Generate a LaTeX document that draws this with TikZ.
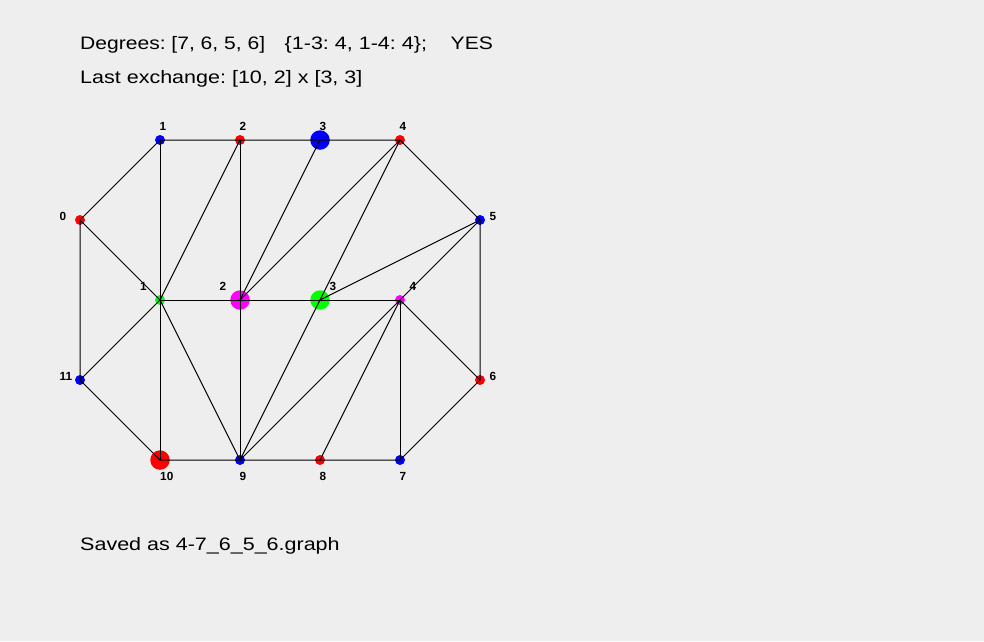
\documentclass[tikz,border=0pt]{standalone}
\usepackage{fontspec}
\setmainfont{Liberation Sans}
\newfontfamily\widefont[FakeStretch=1.17]{Liberation Sans}
\newfontfamily\widerfont[FakeStretch=1.195]{Liberation Sans}
\frenchspacing
\definecolor{bgc}{RGB}{238,238,238}
\definecolor{cred}{RGB}{255,0,0}
\definecolor{cblue}{RGB}{0,0,255}
\definecolor{cgreen}{RGB}{0,255,0}
\definecolor{cmag}{RGB}{255,0,255}
\tikzset{
  dot/.style={circle, inner sep=0pt, minimum size=10pt, draw=none},
  bigdot/.style={minimum size=19.5pt},
  lbl/.style={anchor=base west, inner sep=0pt, font=\fontsize{11.8}{12}\selectfont\bfseries},
  txt/.style={anchor=base west, inner sep=0pt, font=\widefont\fontsize{18}{20}\selectfont},
  txtw/.style={txt, font=\widerfont\fontsize{18}{20}\selectfont},
  edge/.style={line width=1pt, black}
}
\begin{document}
\begin{tikzpicture}[x=1pt,y=-1pt]
\fill[bgc] (0,0) rectangle (984,641);
\useasboundingbox (0,0) rectangle (984,641);

% texts
\node[txt] (t1) at (80,49.5) {Degrees: [7, 6, 5, 6]};
\node[txtw] (t2) at (284.5,49.5) {\{1-3: 4, 1-4: 4\};};
\node[txt] (t3) at (450.5,49.5) {YES};
\node[txtw] (t4) at (80,83) {Last exchange: [10, 2] x [3, 3]};
\node[txtw] (t5) at (80,550) {Saved as 4-7\_6\_5\_6.graph};

% outer vertices
\node[dot, fill=cred]  (o0)  at (80,220) {};
\node[dot, fill=cblue] (o1)  at (160,140) {};
\node[dot, fill=cred]  (o2)  at (240,140) {};
\node[dot, bigdot, fill=cblue] (o3) at (320,140) {};
\node[dot, fill=cred]  (o4)  at (400,140) {};
\node[dot, fill=cblue] (o5)  at (480,220) {};
\node[dot, fill=cred]  (o6)  at (480,380) {};
\node[dot, fill=cblue] (o7)  at (400,460) {};
\node[dot, fill=cred]  (o8)  at (320,460) {};
\node[dot, fill=cblue] (o9)  at (240,460) {};
\node[dot, bigdot, fill=cred] (o10) at (160,460) {};
\node[dot, fill=cblue] (o11) at (80,380) {};
% inner vertices
\node[dot, fill=cgreen] (i1) at (160,300) {};
\node[dot, bigdot, fill=cmag] (i2) at (240,300) {};
\node[dot, bigdot, fill=cgreen] (i3) at (320,300) {};
\node[dot, fill=cmag] (i4) at (400,300) {};

% labels
\node[lbl] (l1)  at (159.5,130) {1};
\node[lbl] (l2)  at (239.5,130) {2};
\node[lbl] (l3)  at (319.5,130) {3};
\node[lbl] (l4)  at (399.5,130) {4};
\node[lbl] (l0)  at (59.5,220) {0};
\node[lbl] (l5)  at (489.5,220) {5};
\node[lbl] (l11) at (59.5,380) {11};
\node[lbl] (l6)  at (489.5,380) {6};
\node[lbl] (l10) at (160,480) {10};
\node[lbl] (l9)  at (239.5,480) {9};
\node[lbl] (l8)  at (319.5,480) {8};
\node[lbl] (l7)  at (399.5,480) {7};
\node[lbl] (li1) at (140,290) {1};
\node[lbl] (li2) at (219.5,290) {2};
\node[lbl] (li3) at (329.5,290) {3};
\node[lbl] (li4) at (409.5,290) {4};

% edges: outer cycle
\draw[edge] (o0.center) -- (o1.center) -- (o2.center) -- (o3.center) -- (o4.center) -- (o5.center) -- (o6.center) -- (o7.center) -- (o8.center) -- (o9.center) -- (o10.center) -- (o11.center) -- (o0.center);
% inner path
\draw[edge] (i1.center) -- (i2.center) -- (i3.center) -- (i4.center);
% spokes
\draw[edge] (o0.center) -- (i1.center);
\draw[edge] (o1.center) -- (i1.center);
\draw[edge] (o2.center) -- (i1.center);
\draw[edge] (o11.center) -- (i1.center);
\draw[edge] (o10.center) -- (i1.center);
\draw[edge] (o9.center) -- (i1.center);
\draw[edge] (o2.center) -- (i2.center);
\draw[edge] (o3.center) -- (i2.center);
\draw[edge] (o4.center) -- (i2.center);
\draw[edge] (o9.center) -- (i2.center);
\draw[edge] (o4.center) -- (i3.center);
\draw[edge] (o5.center) -- (i3.center);
\draw[edge] (o9.center) -- (i3.center);
\draw[edge] (o5.center) -- (i4.center);
\draw[edge] (o9.center) -- (i4.center);
\draw[edge] (o8.center) -- (i4.center);
\draw[edge] (o7.center) -- (i4.center);
\draw[edge] (o6.center) -- (i4.center);
\end{tikzpicture}
\end{document}
